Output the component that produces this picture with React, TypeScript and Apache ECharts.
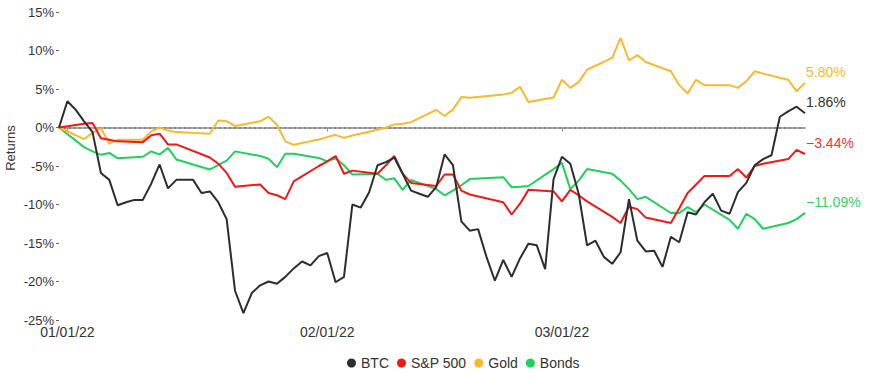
import React, { useEffect, useRef } from "react";
import * as echarts from "echarts";

// Trading days (S&P 500, Gold, Bonds)
const tradingDates = [
  "2021-12-31",
  "2022-01-03", "2022-01-04", "2022-01-05", "2022-01-06", "2022-01-07",
  "2022-01-10", "2022-01-11", "2022-01-12", "2022-01-13", "2022-01-14",
  "2022-01-18", "2022-01-19", "2022-01-20", "2022-01-21",
  "2022-01-24", "2022-01-25", "2022-01-26", "2022-01-27", "2022-01-28",
  "2022-01-31", "2022-02-01", "2022-02-02", "2022-02-03", "2022-02-04",
  "2022-02-07", "2022-02-08", "2022-02-09", "2022-02-10", "2022-02-11",
  "2022-02-14", "2022-02-15", "2022-02-16", "2022-02-17", "2022-02-18",
  "2022-02-22", "2022-02-23", "2022-02-24", "2022-02-25",
  "2022-02-28", "2022-03-01", "2022-03-02", "2022-03-03", "2022-03-04",
  "2022-03-07", "2022-03-08", "2022-03-09", "2022-03-10", "2022-03-11",
  "2022-03-14", "2022-03-15", "2022-03-16", "2022-03-17", "2022-03-18",
  "2022-03-21", "2022-03-22", "2022-03-23", "2022-03-24", "2022-03-25",
  "2022-03-28", "2022-03-29", "2022-03-30",
];

// BTC trades every calendar day from 2021-12-31 to 2022-03-30
const btcStart = "2021-12-31";
const btcValues = [
  0, 3.4, 2.3, 0.8, -0.6, -5.9, -6.8, -10.1, -9.7, -9.4,
  -9.4, -7.3, -4.8, -7.9, -6.8, -6.8, -6.8, -8.5, -8.3, -9.7,
  -11.9, -21.2, -24.1, -21.5, -20.5, -20.0, -20.3, -19.4, -18.3, -17.4,
  -17.9, -16.7, -16.3, -20.1, -19.4, -10.0, -10.4, -8.4, -4.9, -4.5,
  -3.9, -6.0, -8.2, -8.6, -9.0, -7.75, -3.5, -4.9, -12.2, -13.4,
  -13.2, -16.8, -19.9, -17.2, -19.4, -17.0, -15.1, -15.3, -18.4, -6.7,
  -3.8, -4.7, -8.6, -15.3, -14.7, -16.8, -17.7, -16.2, -9.3, -14.7,
  -16.1, -16.0, -18.1, -14.2, -14.9, -11.0, -11.3, -9.7, -8.6, -10.8,
  -11.2, -8.4, -7.2, -4.9, -4.1, -3.6, 1.4, 2.1, 2.7, 1.86,
];

const spxValues = [
  0,
  0.5, 0.6, -1.4, -1.6, -1.8,
  -1.9, -1.0, -0.8, -2.2, -2.2,
  -3.9, -4.7, -5.9, -7.7,
  -7.4, -8.5, -8.8, -9.3, -7.0,
  -5.0, -4.4, -3.7, -6.0, -5.6,
  -6.0, -4.9, -3.7, -6.0, -7.2,
  -7.6, -6.1, -6.1, -8.2, -8.7,
  -9.7, -11.3, -9.9, -8.1,
  -8.3, -9.6, -8.1, -8.8, -9.6,
  -11.6, -12.4, -10.3, -10.6, -11.7,
  -12.4, -10.5, -8.5, -7.4, -6.3,
  -6.3, -5.4, -6.5, -5.0, -4.7,
  -4.1, -2.9, -3.44,
];

const goldValues = [
  0,
  -1.5, -0.7, -0.1, -2.1, -1.6,
  -1.6, -0.5, 0.0, -0.4, -0.6,
  -0.8, 0.9, 0.8, 0.2,
  0.8, 1.4, 0.35, -1.8, -2.25,
  -1.55, -1.25, -0.95, -1.35, -1.05,
  -0.3, 0.0, 0.4, 0.5, 0.7,
  2.3, 1.5, 2.35, 3.95, 3.85,
  4.3, 4.5, 5.3, 3.3,
  3.9, 6.2, 5.15, 5.9, 7.5,
  9.05, 11.65, 8.7, 9.4, 8.5,
  7.3, 5.5, 4.45, 6.2, 5.5,
  5.5, 5.15, 6.0, 7.3, 7.0,
  6.2, 4.7, 5.8,
];

const bondValues = [
  0,
  -2.55, -3.1, -3.55, -3.3, -4.0,
  -3.8, -3.1, -3.5, -2.65, -4.15,
  -5.45, -4.9, -4.3, -3.1,
  -3.7, -4.05, -5.15, -3.4, -3.4,
  -3.95, -4.4, -4.0, -4.9, -6.1,
  -6.0, -6.8, -6.6, -8.1, -6.8,
  -8.0, -8.8, -8.2, -7.5, -6.7,
  -6.45, -7.75, -7.7, -7.6,
  -5.4, -4.6, -8.0, -6.9, -5.4,
  -6.0, -6.9, -8.0, -9.3, -9.0,
  -11.1, -11.1, -10.35, -11.0, -10.0,
  -12.0, -13.15, -11.2, -11.9, -13.15,
  -12.4, -11.9, -11.09,
];

const seriesNames = ["BTC", "S&P 500", "Gold", "Bonds"];
const lineColors = ["#2d2d2d", "#f71515", "#f9b92c", "#1fd15c"];
const labelColors = ["#333333", "#ff2e2e", "#f9b92c", "#2fd66b"];
const monthTicks = ["2022-01-01", "2022-02-01", "2022-03-01"];
const yTicks = { min: -25, max: 15, step: 5 };

const FONT = "'Liberation Sans', Arial, Helvetica, sans-serif";
const DAY = 86400000;

function ts(s: string) {
  return new Date(s + "T00:00:00Z").getTime();
}

function fmtDate(v: number) {
  const d = new Date(v);
  const mm = String(d.getUTCMonth() + 1).padStart(2, "0");
  const dd = String(d.getUTCDate()).padStart(2, "0");
  const yy = String(d.getUTCFullYear() % 100).padStart(2, "0");
  return `${mm}/${dd}/${yy}`;
}

function fmtEnd(v: number) {
  const s = Math.abs(v).toFixed(2) + "%";
  return v < 0 ? "\u2212" + s : s;
}

export default function App() {
  const ref = useRef<HTMLDivElement>(null);

  useEffect(() => {
    document.body.style.margin = "0";
    if (!ref.current) return;
    const chart = echarts.init(ref.current, undefined, { renderer: "svg" });

    const btcStartTs = ts(btcStart);
    const btcData = btcValues.map((v, i) => [btcStartTs + i * DAY, v]);
    const tradeTs = tradingDates.map(ts);
    const mk = (vals: number[]) => vals.map((v, i) => [tradeTs[i], v]);
    const allData = [btcData, mk(spxValues), mk(goldValues), mk(bondValues)];

    const series: any[] = seriesNames.map((name, i) => {
      const d = allData[i];
      const last = d[d.length - 1][1] as number;
      return {
        name,
        type: "line",
        data: d,
        showSymbol: false,
        symbol: "circle",
        lineStyle: { width: 2, color: lineColors[i] },
        itemStyle: { color: lineColors[i] },
        z: 10 - i,
        endLabel: {
          show: true,
          formatter: () => fmtEnd(last),
          color: labelColors[i],
          fontSize: 14,
          fontFamily: FONT,
          distance: 1,
          offset: [0, -11],
        },
      };
    });

    series.push({
      name: "zero",
      type: "line",
      data: [],
      silent: true,
      markLine: {
        silent: true,
        symbol: ["none", "none"],
        label: { show: false },
        lineStyle: { type: [2, 3], color: "#777777", width: 1.5 },
        data: [{ yAxis: 0 }],
      },
    });

    const monthTs = monthTicks.map(ts);

    chart.setOption({
      animation: false,
      textStyle: { fontFamily: FONT },
      grid: { left: 59, right: 75, top: 12, bottom: 62, containLabel: false },
      legend: {
        data: seriesNames,
        left: 342,
        top: 351,
        icon: "circle",
        itemWidth: 9,
        itemHeight: 9,
        itemGap: 8,
        textStyle: { color: "#333", fontSize: 14, fontFamily: FONT },
      },
      xAxis: {
        type: "value",
        min: ts(btcStart),
        max: ts("2022-03-30"),
        axisLine: { show: true, lineStyle: { color: "#8c8c8c", width: 1.5 } },
        axisTick: {
          show: true,
          length: 4,
          customValues: monthTs,
          lineStyle: { color: "#8c8c8c" },
        },
        axisLabel: {
          customValues: monthTs,
          formatter: (v: number) => fmtDate(v),
          color: "#333",
          fontSize: 14,
          margin: 5,
          fontFamily: FONT,
        },
        splitLine: { show: false },
      },
      yAxis: {
        type: "value",
        min: yTicks.min,
        max: yTicks.max,
        interval: yTicks.step,
        axisLine: { show: false },
        axisTick: { show: true, length: 3, lineStyle: { color: "#666" } },
        axisLabel: {
          formatter: (v: number) => `${v}%`,
          color: "#333",
          fontSize: 13,
          margin: 5,
          fontFamily: FONT,
        },
        splitLine: { show: false },
      },
      graphic: [
        {
          type: "text",
          x: 10,
          y: 148,
          rotation: Math.PI / 2,
          style: {
            text: "Returns",
            fill: "#333",
            fontSize: 13,
            fontFamily: FONT,
            textAlign: "center",
            textVerticalAlign: "middle",
          },
        },
      ],
      series,
    });

    return () => chart.dispose();
  }, []);

  return <div ref={ref} style={{ width: 880, height: 382 }} />;
}
